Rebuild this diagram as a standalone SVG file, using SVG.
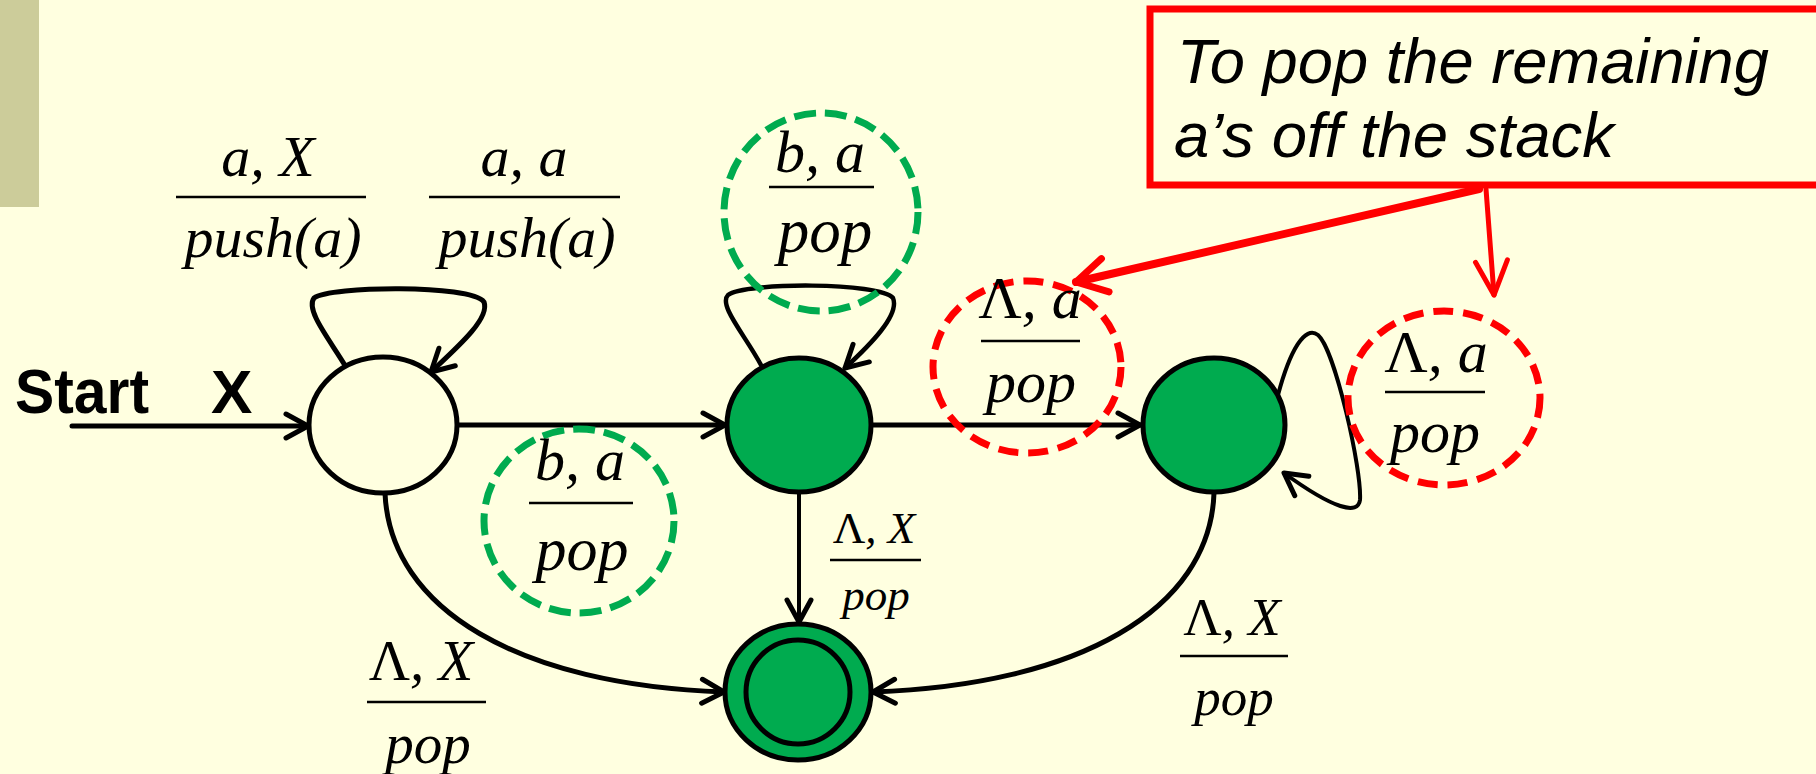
<svg xmlns="http://www.w3.org/2000/svg" width="1816" height="774" viewBox="0 0 1816 774">
<defs>
<style>
.st{fill:none;stroke:#000;stroke-linecap:round;stroke-linejoin:round}
.node{stroke:#000;stroke-width:5}
.g{fill:#00AB4F}
.lbl{font-family:"Liberation Serif","Times New Roman",serif;font-style:italic;fill:#000;text-anchor:middle}
.bar{stroke:#000;stroke-width:2.5}
.gd{fill:none;stroke:#00AB4F;stroke-width:7;stroke-dasharray:22 9}
.rd{fill:none;stroke:#FF0000;stroke-width:7;stroke-dasharray:20 10}
.up{font-style:normal}
</style>
<marker id="ah" markerUnits="userSpaceOnUse" viewBox="-30 -20 40 40" markerWidth="40" markerHeight="40" refX="0" refY="0" orient="auto">
<path d="M-22,-12 L0,0 L-22,12" fill="none" stroke="#000" stroke-width="5" stroke-linecap="round" stroke-linejoin="round"/>
</marker>
<marker id="rah1" markerUnits="userSpaceOnUse" viewBox="-40 -30 50 60" markerWidth="50" markerHeight="60" refX="0" refY="0" orient="auto">
<path d="M-30,-17 L0,0 L-30,17" fill="none" stroke="#FF0000" stroke-width="7" stroke-linecap="round" stroke-linejoin="round"/>
</marker>
<marker id="rah2" markerUnits="userSpaceOnUse" viewBox="-40 -30 50 60" markerWidth="50" markerHeight="60" refX="0" refY="0" orient="auto">
<path d="M-34,-16 L0,0 L-34,16" fill="none" stroke="#FF0000" stroke-width="5" stroke-linecap="round" stroke-linejoin="round"/>
</marker>
</defs>
<rect x="0" y="0" width="1816" height="774" fill="#FFFFE0"/>
<rect x="0" y="0" width="39" height="207" fill="#CCCC9A"/>

<g id="connectors">
<path class="st" d="M72,426 L308,426" stroke-width="5" marker-end="url(#ah)"/>
<path class="st" d="M457,425 L725,425" stroke-width="5" marker-end="url(#ah)"/>
<path class="st" d="M871,425 L1140,425" stroke-width="5" marker-end="url(#ah)"/>
<path class="st" d="M346,367 C330,340 305,310 314,298 C330,286 470,284 484,302 C490,318 460,345 431,372" stroke-width="5" marker-end="url(#ah)"/>
<path class="st" d="M761,365 C745,335 718,305 728,295 C745,282 880,282 893,298 C900,315 870,345 845,368" stroke-width="4.5" marker-end="url(#ah)"/>
<path class="st" d="M1278,395 C1290,350 1305,325 1318,335 C1335,350 1362,470 1360,500 C1358,515 1335,510 1284,473" stroke-width="4" marker-end="url(#ah)"/>
<path class="st" d="M799,493 L799,622" stroke-width="4" marker-end="url(#ah)"/>
<path class="st" d="M385,493 C390,610 520,685 724,692" stroke-width="5" marker-end="url(#ah)"/>
<path class="st" d="M1214,493 C1210,610 1078,685 873,692" stroke-width="5" marker-end="url(#ah)"/>
</g>

<g id="start-label">
<text x="15" y="413" font-family="Liberation Sans, Arial, sans-serif" font-weight="bold" font-size="63" fill="#000" textLength="134" lengthAdjust="spacingAndGlyphs">Start</text>
<text x="211" y="413" font-family="Liberation Sans, Arial, sans-serif" font-weight="bold" font-size="62" fill="#000">X</text>
</g>

<g id="node-q0"><ellipse class="node" cx="383" cy="425" rx="74" ry="68" fill="#FFFFE0"/></g>
<g id="node-q1"><ellipse class="node g" cx="799" cy="425" rx="72" ry="67"/></g>
<g id="node-q2"><ellipse class="node g" cx="1214" cy="425" rx="71" ry="67"/></g>
<g id="node-q3">
<ellipse class="node g" cx="798" cy="692" rx="73" ry="68"/>
<ellipse class="node g" cx="798" cy="692" rx="52" ry="52"/>
</g>

<g id="label-aX">
<text class="lbl" x="268" y="176" font-size="58">a, X</text>
<line class="bar" x1="176" y1="197" x2="366" y2="197"/>
<text class="lbl" x="273" y="257" font-size="58">push(a)</text>
</g>
<g id="label-aa">
<text class="lbl" x="524" y="176" font-size="58">a, a</text>
<line class="bar" x1="429" y1="197" x2="620" y2="197"/>
<text class="lbl" x="527" y="257" font-size="58">push(a)</text>
</g>

<g id="label-ba-top">
<ellipse class="gd" cx="821" cy="212" rx="97" ry="99"/>
<text class="lbl" x="820" y="172" font-size="60">b, a</text>
<line class="bar" x1="769" y1="187" x2="874" y2="187"/>
<text class="lbl" x="825" y="252" font-size="63">pop</text>
</g>
<g id="label-ba-bottom">
<ellipse class="gd" cx="579" cy="521" rx="95" ry="92"/>
<text class="lbl" x="580" y="480" font-size="60">b, a</text>
<line class="bar" x1="529" y1="503" x2="633" y2="503"/>
<text class="lbl" x="582" y="570" font-size="62">pop</text>
</g>
<g id="label-La-1">
<ellipse class="rd" cx="1027" cy="367" rx="94" ry="86"/>
<text class="lbl" x="1030" y="318" font-size="60"><tspan class="up">Λ</tspan>, a</text>
<line class="bar" x1="981" y1="341" x2="1080" y2="341"/>
<text class="lbl" x="1031" y="402" font-size="60">pop</text>
</g>
<g id="label-La-2">
<ellipse class="rd" cx="1444" cy="398" rx="96" ry="87"/>
<text class="lbl" x="1436" y="372" font-size="60"><tspan class="up">Λ</tspan>, a</text>
<line class="bar" x1="1385" y1="392" x2="1485" y2="392"/>
<text class="lbl" x="1435" y="452" font-size="60">pop</text>
</g>
<g id="label-LX-mid">
<text class="lbl" x="874" y="543" font-size="45"><tspan class="up">Λ</tspan>, X</text>
<line class="bar" x1="830" y1="560" x2="921" y2="560"/>
<text class="lbl" x="876" y="610" font-size="45">pop</text>
</g>
<g id="label-LX-left">
<text class="lbl" x="421" y="680" font-size="57"><tspan class="up">Λ</tspan>, X</text>
<line class="bar" x1="367" y1="702" x2="486" y2="702"/>
<text class="lbl" x="428" y="763" font-size="57">pop</text>
</g>
<g id="label-LX-right">
<text class="lbl" x="1232" y="635" font-size="53"><tspan class="up">Λ</tspan>, X</text>
<line class="bar" x1="1180" y1="656" x2="1288" y2="656"/>
<text class="lbl" x="1234" y="715" font-size="53">pop</text>
</g>

<g id="callout">
<rect x="1150" y="9" width="700" height="176" fill="#FFFFE0" stroke="#FF0000" stroke-width="7"/>
<text x="1177" y="83" font-family="Liberation Sans, Arial, sans-serif" font-style="italic" font-size="63" fill="#000" textLength="592" lengthAdjust="spacingAndGlyphs">To pop the remaining</text>
<text x="1174" y="157" font-family="Liberation Sans, Arial, sans-serif" font-style="italic" font-size="63" fill="#000" textLength="440" lengthAdjust="spacingAndGlyphs">a’s off the stack</text>
<path d="M1479,189 L1076,282" fill="none" stroke="#FF0000" stroke-width="8" stroke-linecap="round" marker-end="url(#rah1)"/>
<path d="M1486,189 L1494,295" fill="none" stroke="#FF0000" stroke-width="5" stroke-linecap="round" marker-end="url(#rah2)"/>
</g>
</svg>
